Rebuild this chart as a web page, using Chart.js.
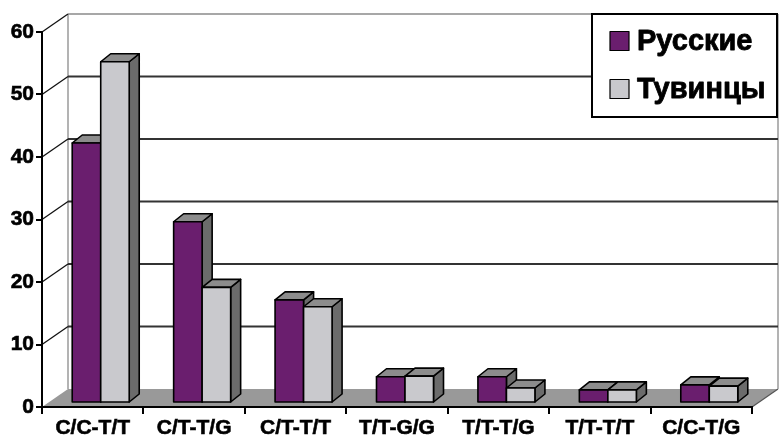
<!DOCTYPE html>
<html>
<head>
<meta charset="utf-8">
<script src="https://cdn.jsdelivr.net/npm/chart.js@4"></script>
<style>
  html, body { margin: 0; padding: 0; background: #fff; }
  #wrap { width: 779px; height: 444px; }
</style>
</head>
<body>
<div id="wrap"><canvas id="c" width="779" height="444"></canvas></div>
<script>
// Genotype frequencies, %
const categories = ['C/C-T/T', 'C/T-T/G', 'C/T-T/T', 'T/T-G/G', 'T/T-T/G', 'T/T-T/T', 'C/C-T/G'];
const russians = [41.6, 29.0, 16.5, 4.2, 4.2, 2.1, 2.9];
const tuvans = [54.6, 18.5, 15.4, 4.3, 2.4, 2.1, 2.7];
const seriesNames = ['Русские', 'Тувинцы'];
const yTicks = [0, 10, 20, 30, 40, 50, 60];

const FONT = "'Liberation Sans', Arial, Helvetica, sans-serif";
const WALL = { dx: 26, dy: -18 };   // depth of floor and side walls
const BAR_OFF = { dx: 8, dy: -4 };  // bars stand slightly behind the front edge
const BAR_D = { dx: 10, dy: -8 };   // depth of each box

function poly(ctx, pts) {
  ctx.beginPath();
  ctx.moveTo(pts[0][0], pts[0][1]);
  for (let i = 1; i < pts.length; i++) ctx.lineTo(pts[i][0], pts[i][1]);
  ctx.closePath();
}

function line(ctx, x1, y1, x2, y2) {
  ctx.beginPath();
  ctx.moveTo(x1, y1);
  ctx.lineTo(x2, y2);
  ctx.stroke();
}

const scene3d = {
  id: 'scene3d',
  beforeDraw(chart) {
    const { ctx, chartArea: a } = chart;
    const y = chart.scales.y;
    const y0 = y.getPixelForValue(0);
    const yTop = y.getPixelForValue(yTicks[yTicks.length - 1]);
    ctx.save();
    // floor
    ctx.fillStyle = '#999999';
    poly(ctx, [[a.left, y0], [a.right, y0], [a.right + WALL.dx, y0 + WALL.dy], [a.left + WALL.dx, y0 + WALL.dy]]);
    ctx.fill();
    ctx.strokeStyle = '#555';
    ctx.lineWidth = 1.2;
    line(ctx, a.right, y0, a.right + WALL.dx, y0 + WALL.dy);
    // back wall frame
    ctx.strokeStyle = '#9a9a9a';
    ctx.lineWidth = 1.5;
    line(ctx, a.left + WALL.dx, yTop + WALL.dy, a.left + WALL.dx, y0 + WALL.dy);
    line(ctx, a.right + WALL.dx, yTop + WALL.dy, a.right + WALL.dx, y0 + WALL.dy);
    // gridlines on the back wall and their run along the left wall
    yTicks.forEach(v => {
      if (v === 0) return;
      const py = y.getPixelForValue(v);
      const top = v === yTicks[yTicks.length - 1];
      ctx.strokeStyle = top ? '#8a8a8a' : '#333';
      ctx.lineWidth = top ? 1.5 : 2;
      line(ctx, a.left + WALL.dx, py + WALL.dy, a.right + WALL.dx, py + WALL.dy);
      ctx.strokeStyle = '#111';
      ctx.lineWidth = 1.3;
      line(ctx, a.left, py, a.left + WALL.dx, py + WALL.dy);
    });
    ctx.restore();
  },
  beforeDatasetDraw() {
    return false; // boxes are drawn below
  },
  afterDatasetsDraw(chart) {
    const ctx = chart.ctx;
    const metas = chart.data.datasets.map((d, i) => chart.getDatasetMeta(i));
    ctx.save();
    ctx.lineJoin = 'round';
    ctx.strokeStyle = '#000';
    ctx.lineWidth = 1.6;
    categories.forEach((c, i) => {
      metas.forEach((meta, di) => {
        const el = meta.data[i];
        const p = el.getProps(['x', 'y', 'base', 'width'], true);
        const L = p.x - p.width / 2 + BAR_OFF.dx;
        const R = p.x + p.width / 2 + BAR_OFF.dx;
        const T = p.y + BAR_OFF.dy;
        const B = p.base + BAR_OFF.dy;
        // side
        ctx.fillStyle = '#6b6b6b';
        poly(ctx, [[R, T], [R + BAR_D.dx, T + BAR_D.dy], [R + BAR_D.dx, B + BAR_D.dy], [R, B]]);
        ctx.fill(); ctx.stroke();
        // top
        ctx.fillStyle = '#8c8c8c';
        poly(ctx, [[L, T], [L + BAR_D.dx, T + BAR_D.dy], [R + BAR_D.dx, T + BAR_D.dy], [R, T]]);
        ctx.fill(); ctx.stroke();
        // front
        ctx.fillStyle = chart.data.datasets[di].backgroundColor;
        poly(ctx, [[L, T], [R, T], [R, B], [L, B]]);
        ctx.fill(); ctx.stroke();
      });
    });
    ctx.restore();
  },
  afterDraw(chart) {
    const ctx = chart.ctx;
    ctx.save();
    // legend box
    const bx = 592, by = 14, bw = 185, bh = 103;
    ctx.fillStyle = '#fff';
    ctx.fillRect(bx, by, bw, bh);
    ctx.strokeStyle = '#000';
    ctx.lineWidth = 2;
    ctx.strokeRect(bx, by, bw, bh);
    ctx.font = `bold 29px ${FONT}`;
    ctx.textBaseline = 'middle';
    ctx.textAlign = 'left';
    ctx.lineJoin = 'round';
    chart.data.datasets.forEach((ds, i) => {
      const cy = 41 + i * 48;
      ctx.fillStyle = ds.backgroundColor;
      ctx.fillRect(610, cy - 9.5, 19, 19);
      ctx.lineWidth = 1.2;
      ctx.strokeStyle = '#000';
      ctx.strokeRect(610, cy - 9.5, 19, 19);
      ctx.fillStyle = '#000';
      ctx.lineWidth = 0.8;
      ctx.fillText(ds.label, 637, cy + 1);
      ctx.strokeText(ds.label, 637, cy + 1);
    });
    ctx.restore();
  }
};

new Chart(document.getElementById('c'), {
  type: 'bar',
  data: {
    labels: categories,
    datasets: [
      { label: seriesNames[0], data: russians, backgroundColor: '#6a1e6e' },
      { label: seriesNames[1], data: tuvans, backgroundColor: '#c9c9cd' }
    ]
  },
  options: {
    responsive: false,
    animation: false,
    devicePixelRatio: 1,
    layout: { padding: { top: 32, right: 27, left: 0, bottom: 0 } },
    datasets: { bar: { categoryPercentage: 0.562, barPercentage: 1 } },
    plugins: { legend: { display: false }, tooltip: { enabled: false } },
    scales: {
      x: {
        grid: { display: true, drawOnChartArea: false, offset: true, tickLength: 7, color: '#000', lineWidth: 2 },
        border: { display: true, color: '#000', width: 2 },
        ticks: { color: '#000', font: { family: FONT, size: 21, weight: 'bold' }, padding: 2, maxRotation: 0, autoSkip: false, textStrokeColor: '#000', textStrokeWidth: 0.6 },
        afterFit(s) { s.height = 37; }
      },
      y: {
        min: yTicks[0],
        max: yTicks[yTicks.length - 1],
        afterBuildTicks(s) { s.ticks = yTicks.map(v => ({ value: v })); },
        grid: { display: true, drawOnChartArea: false, tickLength: 6, color: '#000', lineWidth: 2 },
        border: { display: true, color: '#000', width: 2 },
        ticks: { color: '#000', font: { family: FONT, size: 21, weight: 'bold' }, padding: 2, textStrokeColor: '#000', textStrokeWidth: 0.6 },
        afterFit(s) { s.width = 42; }
      }
    }
  },
  plugins: [scene3d]
});
</script>
</body>
</html>
